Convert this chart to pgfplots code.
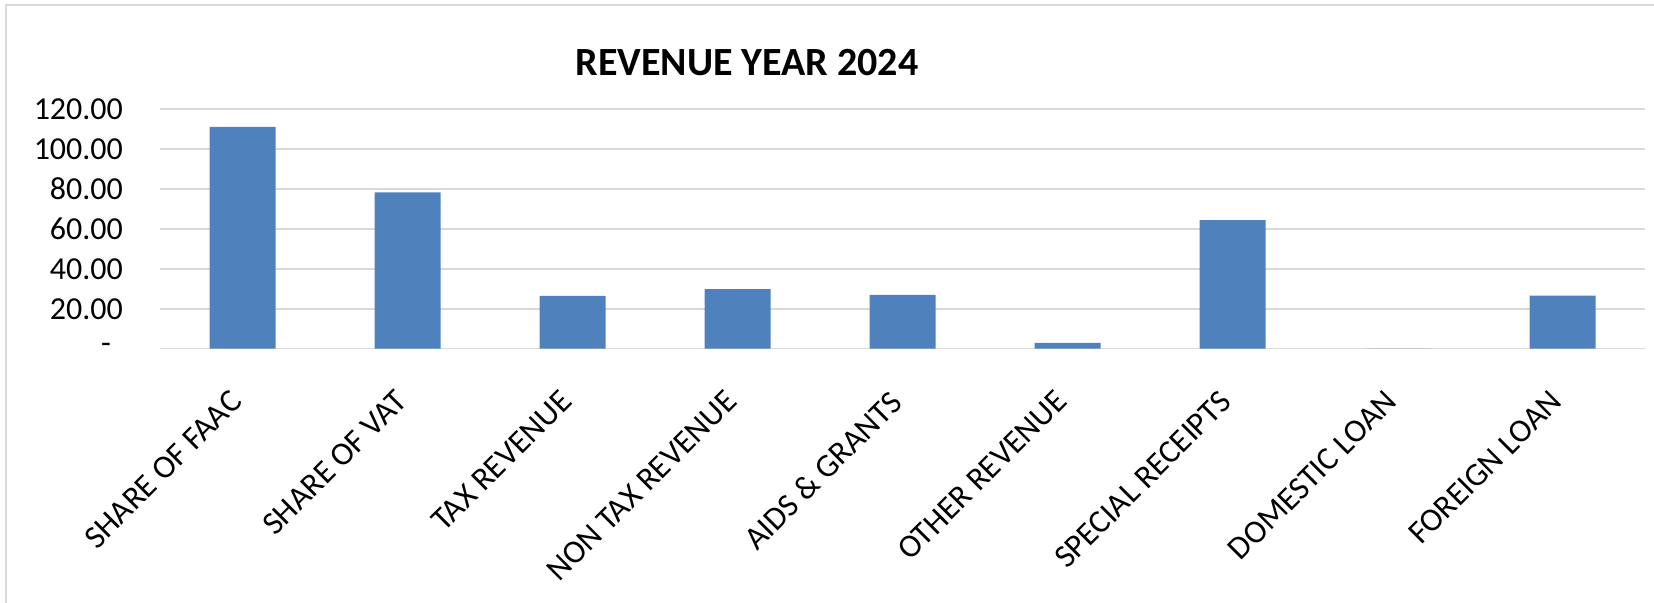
\documentclass[border=0pt]{standalone}
\usepackage{fontspec}
\setmainfont{Carlito}
\usepackage{pgfplots}
\pgfplotsset{compat=1.18}
\definecolor{barblue}{HTML}{4F81BD}
\definecolor{gridgrey}{HTML}{D9D9D9}

\begin{document}
\begin{tikzpicture}
\useasboundingbox (-80pt,-127.15pt) rectangle (747pt,174.35pt);
\draw[gridgrey, line width=0.9pt] (-77pt,-127.15pt) -- (-77pt,171.85pt) -- (747pt,171.85pt);
\begin{axis}[
    at={(0,0)}, anchor=south west,
    scale only axis,
    width=742.5pt, height=119.85pt,
    ybar, bar width=0.4,
    xmin=-0.5, xmax=8.5,
    ymin=0, ymax=120,
    xtick=data,
    xticklabels={SHARE OF FAAC, SHARE OF VAT, TAX REVENUE, NON TAX REVENUE, AIDS \& GRANTS, OTHER REVENUE, SPECIAL RECEIPTS, DOMESTIC LOAN, FOREIGN LOAN},
    ytick={0,20,40,60,80,100,120},
    yticklabels={-\hspace*{6pt}, 20.00, 40.00, 60.00, 80.00, 100.00, 120.00},
    xticklabel style={xshift=-7pt, yshift=-1pt, rotate=45, anchor=north east, font=\fontsize{16.3}{19}\selectfont},
    yticklabel style={anchor=east, font=\fontsize{16}{19}\selectfont},
    xticklabel shift=14pt,
    yticklabel shift=15pt,
    major tick length=0pt,
    axis line style={draw=none},
    ymajorgrids=true,
    grid style={gridgrey, line width=0.8pt},
    clip=false,
    ]
    \addplot[fill=barblue, draw=none] coordinates {
        (0,111.1) (1,78.2) (2,26.4) (3,29.8) (4,26.9)
        (5,2.9) (6,64.4) (7,0) (8,26.6)
    };
\end{axis}
\node[font=\fontsize{20}{24}\selectfont\bfseries] at (293.5pt,142.85pt) {REVENUE YEAR 2024};
\end{tikzpicture}
\end{document}
